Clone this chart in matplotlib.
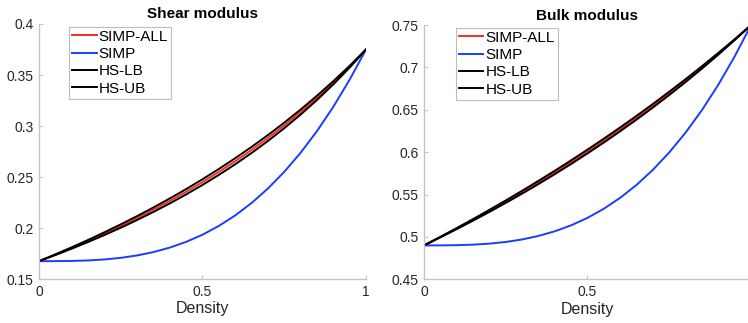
import matplotlib
matplotlib.use('Agg')
import matplotlib.pyplot as plt

plt.rcParams['font.family'] = ['Liberation Sans', 'DejaVu Sans']

density = [0.0, 0.05, 0.1, 0.15, 0.2, 0.25, 0.3, 0.35, 0.4, 0.45, 0.5,
           0.55, 0.6, 0.65, 0.7, 0.75, 0.8, 0.85, 0.9, 0.95, 1.0]

# shear modulus
shear_simp_all = [0.1675, 0.17382, 0.18041, 0.18727, 0.19444, 0.20192, 0.20975, 0.21794, 0.22653, 0.23554, 0.24501,
                  0.25496, 0.26544, 0.27650, 0.28819, 0.30055, 0.31365, 0.32756, 0.34236, 0.35814, 0.375]
shear_simp = [0.1675, 0.16753, 0.16771, 0.16820, 0.16916, 0.17074, 0.17310, 0.17640, 0.18078, 0.18641, 0.19344,
              0.20202, 0.21232, 0.22448, 0.23867, 0.25504, 0.27374, 0.29493, 0.31877, 0.34541, 0.375]
shear_hs_lb = [0.1675, 0.17347, 0.17971, 0.18624, 0.19309, 0.20027, 0.20782, 0.21575, 0.22410, 0.23291, 0.24222,
               0.25205, 0.26247, 0.27353, 0.28529, 0.29781, 0.31117, 0.32546, 0.34078, 0.35725, 0.375]
shear_hs_ub = [0.1675, 0.17417, 0.18110, 0.18829, 0.19578, 0.20357, 0.21167, 0.22013, 0.22895, 0.23816, 0.24779,
               0.25786, 0.26841, 0.27947, 0.29108, 0.30328, 0.31613, 0.32966, 0.34394, 0.35903, 0.375]

# bulk modulus
bulk_simp_all = [0.49, 0.49978, 0.50982, 0.52013, 0.53071, 0.54159, 0.55277, 0.56426, 0.57609, 0.58825, 0.60078,
                 0.61368, 0.62698, 0.64068, 0.65483, 0.66942, 0.68448, 0.70005, 0.71614, 0.73278, 0.75]
bulk_simp = [0.49, 0.49003, 0.49026, 0.49088, 0.49208, 0.49406, 0.49702, 0.50115, 0.50664, 0.51369, 0.5225,
             0.53326, 0.54616, 0.56140, 0.57918, 0.59969, 0.62312, 0.64967, 0.67954, 0.71292, 0.75]
bulk_hs_lb = [0.49, 0.49945, 0.50918, 0.51919, 0.52950, 0.54013, 0.55109, 0.56239, 0.57406, 0.58610, 0.59854,
              0.61140, 0.62470, 0.63845, 0.65270, 0.66746, 0.68276, 0.69863, 0.71510, 0.73221, 0.75]
bulk_hs_ub = [0.49, 0.50011, 0.51046, 0.52106, 0.53192, 0.54304, 0.55444, 0.56613, 0.57811, 0.59040, 0.60302,
              0.61596, 0.62926, 0.64291, 0.65695, 0.67137, 0.68620, 0.70147, 0.71717, 0.73334, 0.75]

labels = ['SIMP-ALL', 'SIMP', 'HS-LB', 'HS-UB']
colors = ['#ff2a1a', '#1a3cff', 'black', 'black']

shear_yticks = [0.15, 0.2, 0.25, 0.3, 0.35, 0.4]
shear_ytl = ['0.15', '0.2', '0.25', '0.3', '0.35', '0.4']
bulk_yticks = [0.45, 0.5, 0.55, 0.6, 0.65, 0.7, 0.75]
bulk_ytl = ['0.45', '0.5', '0.55', '0.6', '0.65', '0.7', '0.75']


def draw(ax, series, title, ylim, yticks, ytl, leg_anchor):
    for ys, c, lab in zip(series, colors, labels):
        ax.plot(density, ys, color=c, lw=1.4, label=lab)
    ax.set_xlim(0, 1)
    ax.set_ylim(*ylim)
    ax.set_xticks([0, 0.5, 1])
    ax.set_xticklabels(['0', '0.5', '1'])
    ax.set_yticks(yticks)
    ax.set_yticklabels(ytl)
    for s in ['top', 'right']:
        ax.spines[s].set_visible(False)
    for s in ['left', 'bottom']:
        ax.spines[s].set_color('#c4c4c4')
        ax.spines[s].set_linewidth(1.0)
    ax.tick_params(direction='in', length=3, color='#c4c4c4', labelsize=10,
                   labelcolor='#262626', pad=4)
    ax.set_title(title, fontsize=11, fontweight='bold', pad=4)
    ax.set_xlabel('Density', fontsize=11.5, color='#262626', labelpad=2)
    leg = ax.legend(loc='upper left', bbox_to_anchor=leg_anchor, fontsize=11,
                    handlelength=1.6, handletextpad=0.15, borderpad=0.2,
                    labelspacing=0.22, borderaxespad=0, fancybox=False,
                    framealpha=1)
    leg.get_frame().set_edgecolor('#bdbdbd')
    leg.get_frame().set_linewidth(0.8)


fig = plt.figure(figsize=(7.48, 3.23), dpi=100)
ax1 = fig.add_axes([0.0521, 0.1362, 0.4372, 0.7895])
ax2 = fig.add_axes([0.5668, 0.1353, 0.4372, 0.787])

draw(ax1, [shear_simp_all, shear_simp, shear_hs_lb, shear_hs_ub], 'Shear modulus',
     (0.15, 0.4), shear_yticks, shear_ytl, (0.092, 0.99))
draw(ax2, [bulk_simp_all, bulk_simp, bulk_hs_lb, bulk_hs_ub], 'Bulk modulus',
     (0.45, 0.75), bulk_yticks, bulk_ytl, (0.097, 0.99))

fig.savefig('out.png', dpi=100)
